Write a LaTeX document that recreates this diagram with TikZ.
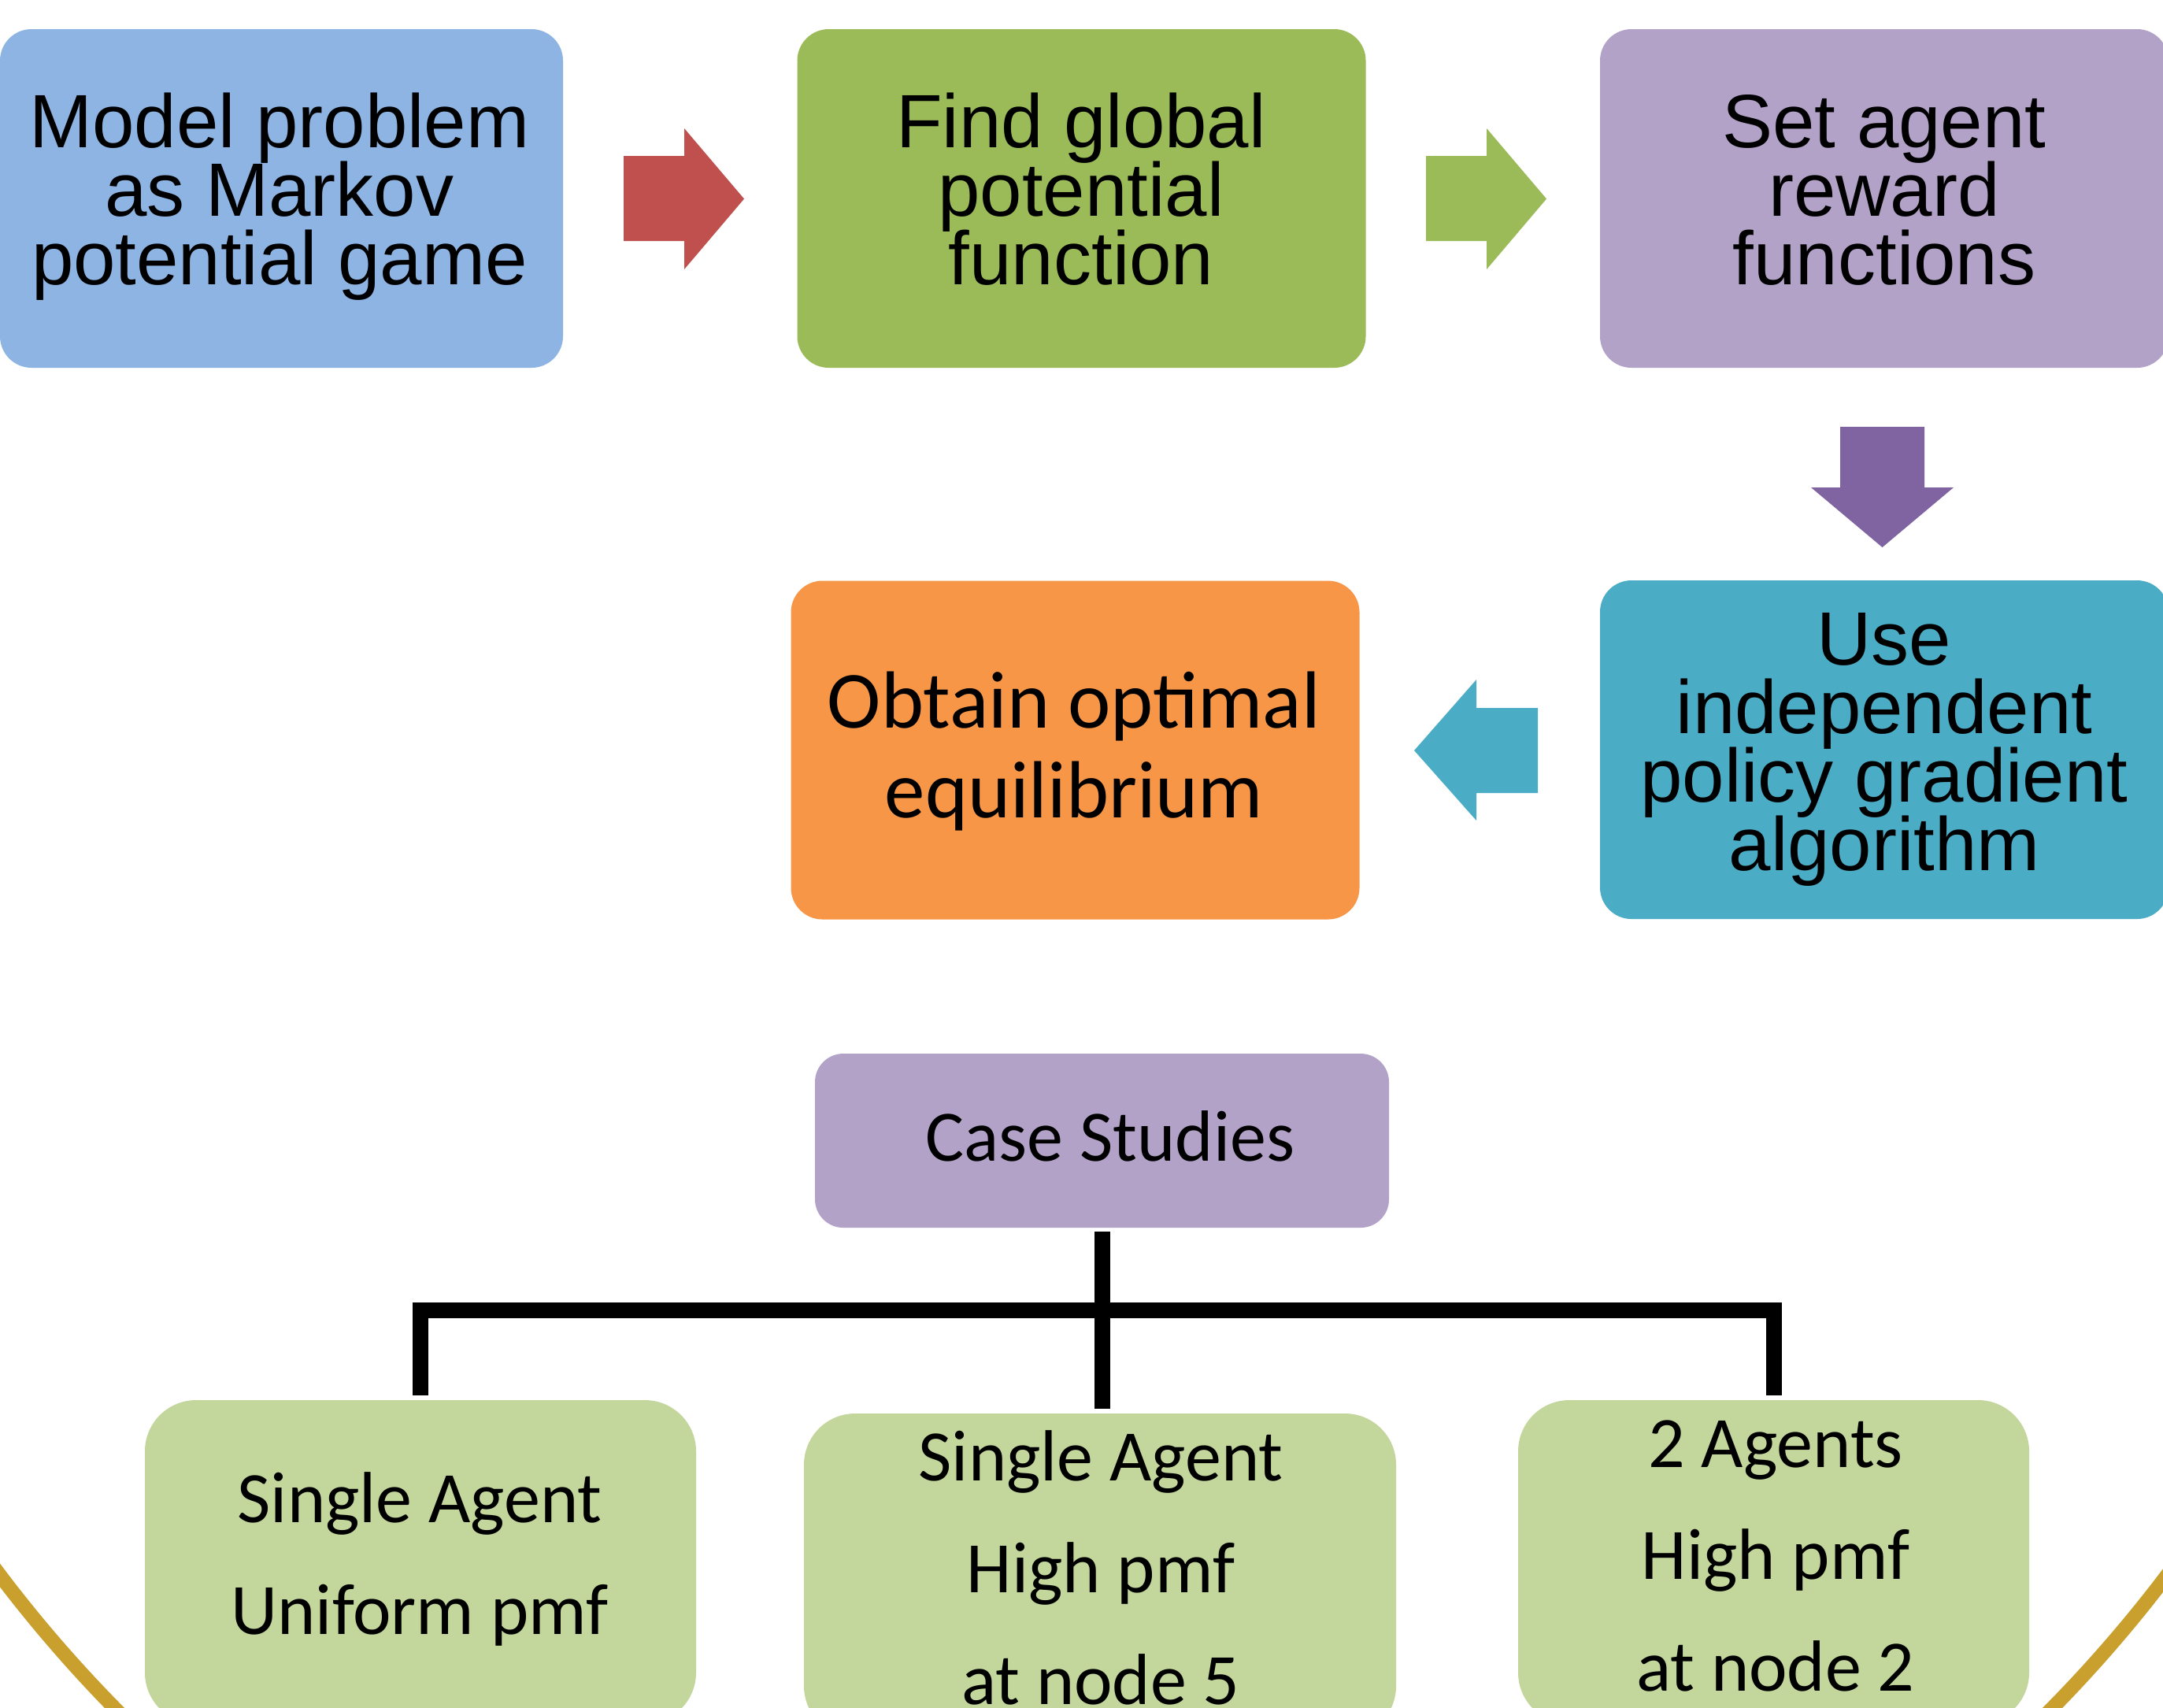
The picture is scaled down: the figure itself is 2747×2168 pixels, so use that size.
\documentclass[tikz,border=0pt]{standalone}
\usepackage{fontspec}
\setmainfont{Liberation Sans}
\newfontfamily\carlito{Carlito}
\usetikzlibrary{calc}
\definecolor{cblue}{HTML}{8EB4E3}
\definecolor{cgreen}{HTML}{9BBB59}
\definecolor{cpurple}{HTML}{B2A2C7}
\definecolor{cteal}{HTML}{4BACC6}
\definecolor{corange}{HTML}{F79646}
\definecolor{cred}{HTML}{C0504D}
\definecolor{cpurpdark}{HTML}{8064A2}
\definecolor{clgreen}{HTML}{C3D69B}
\definecolor{cgold}{HTML}{C9A02D}
\newcommand\firstln{\rule{0pt}{1em}}
\newcommand\tightlines{\lineskiplimit=-\maxdimen\lineskip=0pt\relax}
\tikzset{
  box/.style={rounded corners=10pt, inner sep=0pt, outer sep=0pt, draw=none},
  topbox/.style={box, minimum width=180.5pt, minimum height=107.5pt},
  lowbox/.style={box, rounded corners=16.25pt, fill=clgreen, minimum height=102.75pt},
  lbl/.style={inner sep=0pt, outer sep=0pt, anchor=north, align=center, text=black},
  toptxt/.style={lbl, font={\fontsize{24}{21.75}\selectfont\tightlines}},
  caltxt/.style={lbl, font={\carlito\fontsize{23}{35.5}\selectfont\tightlines}},
  obttxt/.style={lbl, font={\carlito\fontsize{25.75}{28.5}\selectfont\tightlines}},
  blockarrow/.style={draw=none},
  tree/.style={draw=black, line width=5pt},
}
\begin{document}
\begin{tikzpicture}[x=0.25pt, y=-0.25pt]
\useasboundingbox (0,0) rectangle (2747,2168);
\clip (0,0) rectangle (2747,2168);
\fill[white] (0,0) rectangle (2747,2168);

% gold arc (large circle, only bottom corners visible)
\draw[cgold, line width=4.5pt] (1376,960) circle[radius=431.25pt];

% top row boxes
\node[topbox, fill=cblue, minimum width=178.75pt] (b1) at (357.5,252) {};
\node[topbox, fill=cgreen] (b2) at (1373.5,252) {};
\node[topbox, fill=cpurple] (b3) at (2393,252) {};
\node[topbox, fill=cteal] (b5) at (2393,952) {};
\node[topbox, fill=corange] (b4) at (1365.5,952.5) {};

\node[toptxt] (t1) at (355,91) {\firstln Model problem\\as Markov\\potential game};
\node[toptxt] (t2) at (1373,91) {\firstln Find global\\potential\\function};
\node[toptxt] (t3) at (2393,91) {\firstln Set agent\\reward\\functions};
\node[toptxt] (t5) at (2393,748) {\firstln Use\\independent\\policy gradient\\algorithm};
\node[obttxt] (t4) at (1364,821) {\firstln Obtain optimal\\equilibrium};

% block arrows
\fill[cred, blockarrow] (792,198) -- (869,198) -- (869,163) -- (945,252.5) -- (869,342) -- (869,306) -- (792,306) -- cycle;
\fill[cgreen, blockarrow] (1811,198) -- (1888,198) -- (1888,163) -- (1964,252.5) -- (1888,342) -- (1888,306) -- (1811,306) -- cycle;
\fill[cpurpdark, blockarrow] (2337,542) -- (2444,542) -- (2444,619) -- (2481,619) -- (2390.5,695) -- (2300,619) -- (2337,619) -- cycle;
\fill[cteal, blockarrow] (1953,899) -- (1875,899) -- (1875,863) -- (1796,953) -- (1875,1042) -- (1875,1007) -- (1953,1007) -- cycle;

% case studies
\node[box, rounded corners=9pt, fill=cpurple, minimum width=182.25pt, minimum height=55.25pt] (case) at (1399.5,1448.5) {};
\node[lbl, font={\carlito\fontsize{23}{27}\selectfont}] (tcase) at (1410,1382) {\firstln Case Studies};

% bottom boxes
\node[lowbox, minimum width=175pt] (sbL) at (534,1983.5) {};
\node[lowbox, minimum width=188pt] (sbM) at (1397,2000.5) {};
\node[lowbox, minimum width=162.25pt] (sbR) at (2252.5,1983.5) {};

\node[caltxt] (tL) at (533,1841) {\firstln Single Agent\\Uniform pmf};
\node[caltxt] (tM) at (1398,1788) {\firstln Single Agent\\High pmf\\at node 5};
\node[caltxt] (tR) at (2255,1771) {\firstln 2 Agents\\High pmf\\at node 2};

% tree connectors
\coordinate (j) at (1399.5,1664);
\draw[tree] ($(case.south)+(0,5)$) -- (j);
\draw[tree] ($(sbL.north)+(0,-6)$) |- (j) -| ($(sbR.north)+(0,-6)$);
\draw[tree] (j) -- ($(j |- sbM.north)+(0,-6)$);
\end{tikzpicture}
\end{document}
